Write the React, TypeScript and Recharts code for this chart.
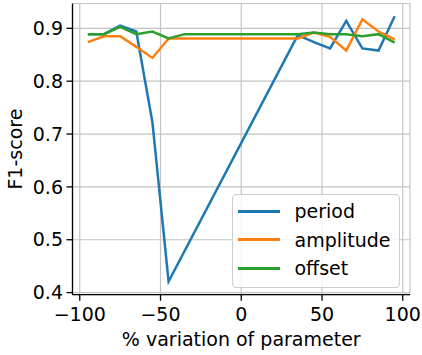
import React from "react";
import {
  LineChart, Line, XAxis, YAxis, CartesianGrid, Legend, Label,
} from "recharts";

// % variation of the parameter (no period run between -45 and 35)
const variation = [-95, -85, -75, -65, -55, -45, -35, 35, 45, 55, 65, 75, 85, 95];
const period = [0.889, 0.889, 0.905, 0.894, 0.722, 0.421, null, 0.887, 0.874, 0.862, 0.914, 0.862, 0.858, 0.923];
const amplitude = [0.874, 0.885, 0.885, 0.865, 0.844, 0.881, 0.881, 0.881, 0.892, 0.884, 0.858, 0.917, 0.894, 0.879];
const offset = [0.889, 0.889, 0.903, 0.889, 0.894, 0.881, 0.889, 0.889, 0.892, 0.889, 0.889, 0.885, 0.889, 0.873];

const seriesOrder = ["period", "amplitude", "offset"];
const xTicks = [-100, -50, 0, 50, 100];
const yTicks = [0.4, 0.5, 0.6, 0.7, 0.8, 0.9];

const FONT = "'DejaVu Sans', sans-serif";
const FS = 19;

const data = variation.map((x, i) => ({
  x,
  period: period[i],
  amplitude: amplitude[i],
  offset: offset[i],
}));

const minus = (v: number) => (v < 0 ? `\u2212${Math.abs(v)}` : `${v}`);

function LegendBox({ payload }: any) {
  const items = [...(payload || [])].sort(
    (a: any, b: any) => seriesOrder.indexOf(a.value) - seriesOrder.indexOf(b.value)
  );
  return (
    <div
      style={{
        border: "1px solid #cccccc",
        borderRadius: 4,
        background: "rgba(255,255,255,0.8)",
        padding: "2px 0 4px 0",
        fontFamily: FONT,
        fontSize: FS,
        color: "#000",
        boxSizing: "border-box",
      }}
    >
      {items.map((p: any) => (
        <div key={p.value} style={{ display: "flex", alignItems: "center", height: 28.5 }}>
          <span style={{ display: "inline-block", width: 42, height: 3, background: p.color, marginLeft: 5, marginRight: 15 }} />
          <span style={{ lineHeight: "28.5px" }}>{p.value}</span>
        </div>
      ))}
    </div>
  );
}

export default function App() {
  const tick = { fontSize: FS, fill: "#000", fontFamily: FONT };
  return (
    <div style={{ position: "absolute", left: 0, top: 0, width: 422, height: 355, background: "#fff" }}>
      <LineChart width={422} height={355} data={data} margin={{ top: 3.5, right: 12, bottom: 0, left: 0 }}>
        <CartesianGrid stroke="#c4c4c4" strokeWidth={1.2} />
        <XAxis
          dataKey="x"
          type="number"
          domain={[-104.5, 104.5]}
          ticks={xTicks}
          tickFormatter={minus}
          tick={tick}
          tickSize={6}
          tickMargin={7}
          height={60.3}
          stroke="#000"
          strokeWidth={1.3}
          allowDataOverflow
        >
          <Label
            content={({ viewBox }: any) => (
              <text
                x={viewBox.x + viewBox.width / 2}
                y={viewBox.y + 51}
                textAnchor="middle"
                fontSize={FS}
                fontFamily={FONT}
                fill="#000"
              >
                % variation of parameter
              </text>
            )}
          />
        </XAxis>
        <XAxis xAxisId="top" orientation="top" type="number" domain={[-104.5, 104.5]} height={0} tick={false} tickLine={false} stroke="#000" strokeWidth={1.3} />
        <YAxis
          type="number"
          domain={[0.396, 0.947]}
          ticks={yTicks}
          tickFormatter={(v: number) => v.toFixed(1)}
          tick={tick}
          tickSize={6}
          tickMargin={3.5}
          width={72.5}
          stroke="#000"
          strokeWidth={1.3}
          allowDataOverflow
        >
          <Label
            content={({ viewBox }: any) => {
              const cx = 22.5;
              const cy = viewBox.y + viewBox.height / 2;
              return (
                <text
                  x={cx}
                  y={cy}
                  transform={`rotate(-90 ${cx} ${cy})`}
                  textAnchor="middle"
                  fontSize={FS}
                  fontFamily={FONT}
                  fill="#000"
                >
                  F1-score
                </text>
              );
            }}
          />
        </YAxis>
        <YAxis yAxisId="right" orientation="right" width={0} tick={false} tickLine={false} stroke="#000" strokeWidth={1.3} />
        <Legend
          layout="vertical"
          align="center"
          verticalAlign="middle"
          wrapperStyle={{ left: 231.5, top: 194, width: 168, height: 92 }}
          content={<LegendBox />}
        />
        <Line dataKey="period" name="period" stroke="#1f77b4" strokeWidth={2.5} dot={false} connectNulls isAnimationActive={false} />
        <Line dataKey="amplitude" name="amplitude" stroke="#ff7f0e" strokeWidth={2.5} dot={false} isAnimationActive={false} />
        <Line dataKey="offset" name="offset" stroke="#2ca02c" strokeWidth={2.5} dot={false} isAnimationActive={false} />
      </LineChart>
    </div>
  );
}
